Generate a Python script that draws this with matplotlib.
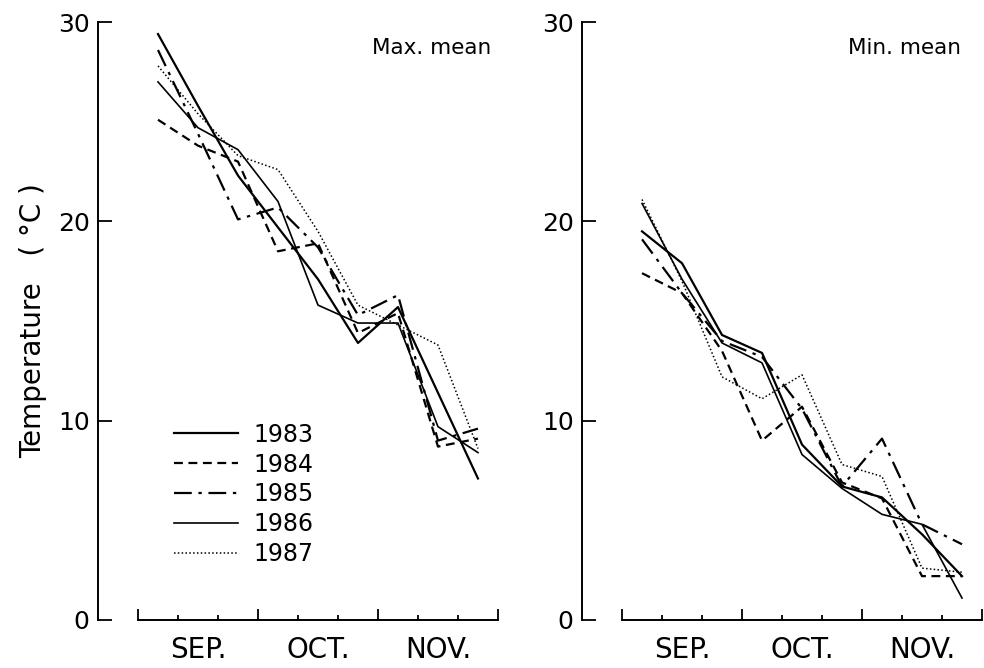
import numpy as np
import matplotlib
matplotlib.use('Agg')
import matplotlib.pyplot as plt

# Dekad means, Sep. 1st dekad .. Nov. 3rd dekad
years = ['1983', '1984', '1985', '1986', '1987']
months = ['SEP.', 'OCT.', 'NOV.']

max_1983 = [29.4, 25.8, 22.3, 19.7, 17.1, 13.9, 15.7, 11.4, 7.1]
max_1984 = [25.1, 23.8, 23.0, 18.5, 18.9, 14.4, 15.4, 8.7, 9.1]
max_1985 = [28.6, 24.4, 20.1, 20.7, 18.7, 15.3, 16.3, 9.0, 9.6]
max_1986 = [27.0, 24.7, 23.6, 21.0, 15.8, 14.9, 14.9, 9.7, 8.4]
max_1987 = [27.8, 25.4, 23.3, 22.6, 19.5, 15.8, 14.8, 13.8, 8.6]

min_1983 = [19.5, 17.9, 14.3, 13.4, 8.8, 6.7, 6.15, 4.3, 2.2]
min_1984 = [17.4, 16.4, 13.5, 9.0, 10.7, 6.9, 6.1, 2.2, 2.2]
min_1985 = [19.1, 16.4, 14.0, 13.2, 10.6, 6.7, 9.1, 4.8, 3.8]
min_1986 = [20.9, 17.1, 13.9, 12.9, 8.3, 6.6, 5.3, 4.8, 1.1]
min_1987 = [21.1, 17.0, 12.2, 11.1, 12.3, 7.8, 7.2, 2.6, 2.4]

max_series = [max_1983, max_1984, max_1985, max_1986, max_1987]
min_series = [min_1983, min_1984, min_1985, min_1986, min_1987]

# line styles per year
styles = [
    dict(linestyle='-', linewidth=1.6),
    dict(linestyle=(0, (4, 2.5)), linewidth=1.6),
    dict(linestyle=(0, (8, 3, 1.5, 3)), linewidth=1.6),
    dict(linestyle='-', linewidth=1.2),
    dict(linestyle=(0, (1, 1.5)), linewidth=1.1),
]

x = np.arange(9) + 0.5  # dekad centres

fig = plt.figure(figsize=(9.84, 6.68), dpi=100)
ax1 = fig.add_axes([0.0996, 0.0719, 0.4085, 0.895])
ax2 = fig.add_axes([0.5915, 0.0719, 0.4085, 0.895])


def style_axis(ax):
    ax.set_xlim(-1, 9.05)
    ax.set_ylim(0, 30)
    for s in ['top', 'right']:
        ax.spines[s].set_visible(False)
    ax.spines['bottom'].set_bounds(0, 9)
    ax.spines['left'].set_bounds(0, 30)
    ax.spines['bottom'].set_linewidth(1.4)
    ax.spines['left'].set_linewidth(1.4)
    ax.set_xticks([0, 3, 6, 9])
    ax.set_xticks([1, 2, 4, 5, 7, 8], minor=True)
    ax.tick_params(axis='x', which='major', direction='in', length=8, width=1.3, labelbottom=False)
    ax.tick_params(axis='x', which='minor', direction='in', length=3.5, width=1.3)
    ax.set_yticks([0, 10, 20, 30])
    ax.tick_params(axis='y', direction='in', length=10, width=1.3, labelsize=18, pad=6)
    for i, m in enumerate(months):
        ax.text(1.5 + 3 * i, -0.05, m, transform=ax.get_xaxis_transform(),
                ha='center', va='center', fontsize=20)


for ax, series in [(ax1, max_series), (ax2, min_series)]:
    style_axis(ax)
    for yr, vals, st in zip(years, series, styles):
        ax.plot(x, vals, color='black', label=yr, clip_on=False, **st)

ax1.text(5.85, 28.7, 'Max. mean', fontsize=15.5, va='center', ha='left')
ax2.text(5.65, 28.7, 'Min. mean', fontsize=15.5, va='center', ha='left')
ax1.set_ylabel('Temperature   ( °C )', fontsize=20, labelpad=8)

ax1.legend(loc='upper left', bbox_to_anchor=(0.19, 0.33), frameon=False,
           fontsize=17, handlelength=2.7, handletextpad=0.65, labelspacing=0.25,
           borderpad=0, borderaxespad=0)

fig.savefig('out.png', dpi=100)
